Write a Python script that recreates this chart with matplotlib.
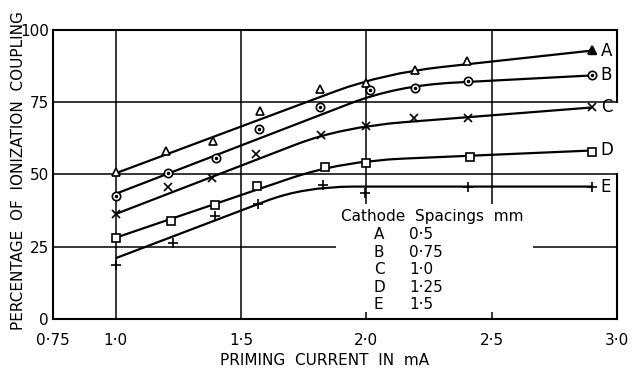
import matplotlib
matplotlib.use("Agg")
import matplotlib.pyplot as plt
from matplotlib.path import Path
from matplotlib.patches import PathPatch, Rectangle

# measured points, priming current (mA) vs. percentage of ionization coupling
current_A = [1.0, 1.20, 1.39, 1.575, 1.815, 2.0, 2.195, 2.40, 2.90]
coupling_A = [51.0, 58.0, 61.7, 72.0, 79.5, 81.8, 86.3, 89.3, 93.0]

current_B = [1.0, 1.21, 1.40, 1.572, 1.814, 2.013, 2.196, 2.405, 2.90]
coupling_B = [42.5, 50.6, 55.6, 65.6, 73.2, 79.1, 80.1, 82.4, 84.3]

current_C = [1.0, 1.21, 1.385, 1.56, 1.821, 2.0, 2.192, 2.407, 2.90]
coupling_C = [36.3, 45.7, 48.8, 57.0, 63.7, 66.9, 69.7, 69.6, 73.2]

current_D = [1.0, 1.222, 1.396, 1.563, 1.834, 1.997, 2.414, 2.90]
coupling_D = [28.1, 34.0, 39.5, 45.9, 52.7, 54.0, 56.0, 57.9]

current_E = [1.0, 1.228, 1.398, 1.568, 1.828, 1.995, 2.407, 2.90]
coupling_E = [18.8, 26.4, 35.5, 39.8, 46.4, 43.6, 45.5, 45.6]

# faired curves: start, start of bend, knee, end of bend, end
curve_A = [(1.0, 50.4), (1.88, 78.9), (2.07, 85.0), (2.30, 87.2), (2.9, 92.9)]
curve_B = [(1.0, 43.3), (1.93, 74.4), (2.12, 80.8), (2.35, 81.8), (2.9, 84.3)]
curve_C = [(1.0, 36.3), (1.72, 60.4), (1.90, 66.4), (2.15, 68.1), (2.9, 73.2)]
curve_D = [(1.0, 28.1), (1.70, 48.75), (1.90, 54.6), (2.15, 55.5), (2.9, 58.3)]
curve_E = [(1.0, 21.0), (1.60, 40.8), (1.75, 45.8), (1.95, 45.8), (2.9, 45.8)]

names = ["A", "B", "C", "D", "E"]
spacings = ["0·5", "0·75", "1·0", "1·25", "1·5"]
xticks = [0.75, 1.0, 1.5, 2.0, 2.5, 3.0]
xticklabels = ["0·75", "1·0", "1·5", "2·0", "2·5", "3·0"]
yticks = [0, 25, 50, 75, 100]

fig = plt.figure(figsize=(6.33, 3.76), dpi=100)
ax = fig.add_axes([0.0837, 0.152, 0.891, 0.768])
ax.set_xlim(0.75, 3.0)
ax.set_ylim(0, 100)

# grid drawn by hand so the legend block can blank part of it
for x in [1.0, 1.5, 2.0, 2.5]:
    ax.axvline(x, color="k", lw=1.1, zorder=1)
for y in [25, 50, 75]:
    ax.axhline(y, color="k", lw=1.1, zorder=1)

for s in ["top", "left", "bottom"]:
    ax.spines[s].set_linewidth(1.5)
ax.spines["right"].set_visible(False)
ax.axvline(3.0, ymin=0.75, ymax=1.0, color="k", lw=1.5, clip_on=False)
ax.axvline(3.0, ymin=0.0, ymax=0.5, color="k", lw=1.5, clip_on=False)

codes = [Path.MOVETO, Path.LINETO, Path.CURVE3, Path.CURVE3, Path.LINETO]
for curve in [curve_A, curve_B, curve_C, curve_D, curve_E]:
    ax.add_patch(PathPatch(Path(curve, codes), fill=False, lw=1.6,
                           edgecolor="k", zorder=3))

mk = dict(color="k", ls="none", mfc="white", mec="k", mew=1.2, zorder=4)
ax.plot(current_A, coupling_A, marker="^", ms=6, **mk)
ax.plot(current_A[-1], coupling_A[-1], marker="^", ms=6, color="k", zorder=5)
ax.plot(current_B, coupling_B, marker="o", ms=6, **mk)
ax.plot(current_B, coupling_B, marker=".", ms=3, color="k", ls="none", zorder=5)
ax.plot(current_C, coupling_C, marker="x", ms=6, **mk)
ax.plot(current_D, coupling_D, marker="s", ms=5.5, **mk)
ax.plot(current_E, coupling_E, marker="+", ms=7, **mk)

for name, curve in zip(names, [curve_A, curve_B, curve_C, curve_D, curve_E]):
    ax.text(curve[-1][0] + 0.035, curve[-1][1], name, fontsize=12,
            ha="left", va="center")

# legend block of cathode spacings
ax.add_patch(Rectangle((1.878, 2.5), 0.786, 37.2, facecolor="white",
                       edgecolor="none", zorder=2))
ax.text(1.90, 35.4, "Cathode  Spacings  mm", fontsize=11, ha="left",
        va="center", zorder=6)
for i, (name, sp) in enumerate(zip(names, spacings)):
    y = 29.2 - i * 6.1
    ax.text(2.03, y, name, fontsize=11, ha="left", va="center", zorder=6)
    ax.text(2.17, y, sp, fontsize=11, ha="left", va="center", zorder=6)

ax.set_xticks(xticks)
ax.set_xticklabels(xticklabels)
ax.set_yticks(yticks)
ax.tick_params(length=0, labelsize=11)
ax.tick_params(axis="x", pad=10)
ax.tick_params(axis="y", pad=3)

ax.set_xlabel("PRIMING  CURRENT  IN  mA", fontsize=11)
ax.xaxis.set_label_coords(0.482, -0.118)
ax.set_ylabel("PERCENTAGE  OF  IONIZATION  COUPLING", fontsize=11)
ax.yaxis.set_label_coords(-0.048, 0.515)

fig.savefig("out.png", dpi=100)
